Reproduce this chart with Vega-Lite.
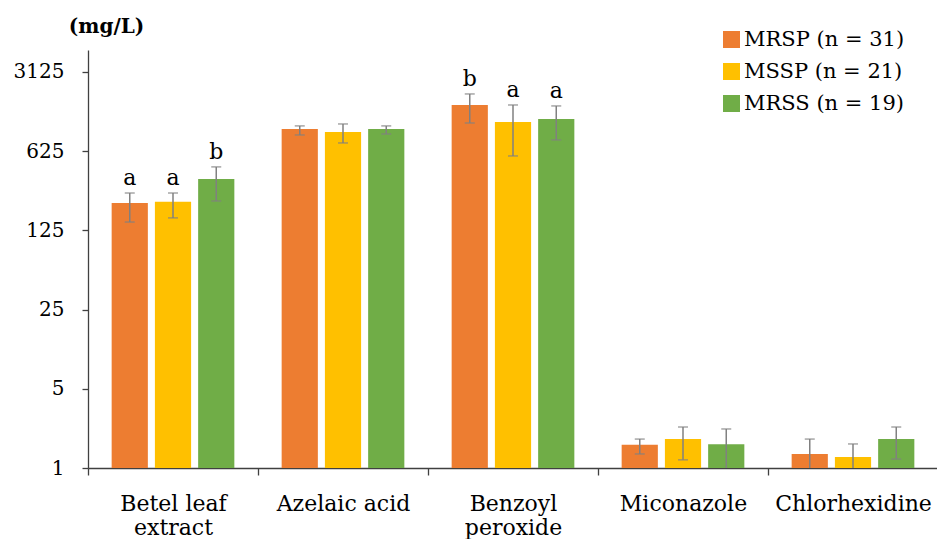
{
  "$schema": "https://vega.github.io/schema/vega-lite/v6.json",
  "autosize": "none",
  "width": 850,
  "height": 418,
  "padding": {"left": 88, "top": 50, "right": 0, "bottom": 71},
  "background": "white",
  "config": {
    "view": {"stroke": null},
    "font": "DejaVu Serif"
  },
  "data": {
    "values": [
      {"agent": "Betel leaf extract", "group": "MRSP", "value": 218, "lower": 148, "upper": 267, "letter": "a"},
      {"agent": "Betel leaf extract", "group": "MSSP", "value": 223, "lower": 161, "upper": 267, "letter": "a"},
      {"agent": "Betel leaf extract", "group": "MRSS", "value": 355, "lower": 227, "upper": 454, "letter": "b"},
      {"agent": "Azelaic acid", "group": "MRSP", "value": 982, "lower": 868, "upper": 1044, "letter": ""},
      {"agent": "Azelaic acid", "group": "MSSP", "value": 923, "lower": 738, "upper": 1086, "letter": ""},
      {"agent": "Azelaic acid", "group": "MRSS", "value": 982, "lower": 886, "upper": 1044, "letter": ""},
      {"agent": "Benzoyl peroxide", "group": "MRSP", "value": 1597, "lower": 1108, "upper": 1998, "letter": "b"},
      {"agent": "Benzoyl peroxide", "group": "MSSP", "value": 1131, "lower": 567, "upper": 1597, "letter": "a"},
      {"agent": "Benzoyl peroxide", "group": "MRSS", "value": 1202, "lower": 785, "upper": 1566, "letter": "a"},
      {"agent": "Miconazole", "group": "MRSP", "value": 1.6, "lower": 1.33, "upper": 1.8, "letter": ""},
      {"agent": "Miconazole", "group": "MSSP", "value": 1.8, "lower": 1.18, "upper": 2.3, "letter": ""},
      {"agent": "Miconazole", "group": "MRSS", "value": 1.62, "lower": 0.9, "upper": 2.21, "letter": ""},
      {"agent": "Chlorhexidine", "group": "MRSP", "value": 1.33, "lower": 0.9, "upper": 1.8, "letter": ""},
      {"agent": "Chlorhexidine", "group": "MSSP", "value": 1.25, "lower": 0.9, "upper": 1.63, "letter": ""},
      {"agent": "Chlorhexidine", "group": "MRSS", "value": 1.8, "lower": 1.2, "upper": 2.3, "letter": ""}
    ]
  },
  "encoding": {
    "x": {
      "field": "agent",
      "type": "nominal",
      "sort": ["Betel leaf extract", "Azelaic acid", "Benzoyl peroxide", "Miconazole", "Chlorhexidine"],
      "scale": {"paddingInner": 0, "paddingOuter": 0},
      "axis": {
        "title": null,
        "labelAngle": 0,
        "tickBand": "extent",
        "tickSize": 7,
        "tickColor": "#404040",
        "tickWidth": 1.3,
        "domainColor": "#404040",
        "domainWidth": 1.3,
        "labelFont": "DejaVu Serif",
        "labelFontSize": 22,
        "labelColor": "#000000",
        "labelPadding": 18,
        "labelLineHeight": 24,
        "labelExpr": "datum.value == 'Betel leaf extract' ? ['Betel leaf', 'extract'] : datum.value == 'Benzoyl peroxide' ? ['Benzoyl', 'peroxide'] : datum.value"
      }
    },
    "xOffset": {
      "field": "group",
      "type": "nominal",
      "sort": ["MRSP", "MSSP", "MRSS"],
      "scale": {"paddingInner": 0.163, "paddingOuter": 0.547}
    }
  },
  "layer": [
    {
      "mark": {"type": "bar"},
      "encoding": {
        "y": {
          "field": "value",
          "type": "quantitative",
          "scale": {"type": "log", "base": 5, "domain": [1, 4880], "nice": false},
          "axis": {
            "title": "(mg/L)",
            "titleAngle": 0,
            "titleFont": "DejaVu Serif",
            "titleFontSize": 20,
            "titleFontWeight": "bold",
            "titleColor": "#000000",
            "titleAlign": "center",
            "titleBaseline": "alphabetic",
            "titleX": 18,
            "titleY": -18,
            "values": [1, 5, 25, 125, 625, 3125],
            "format": "d",
            "grid": false,
            "tickSize": 6,
            "tickColor": "#404040",
            "tickWidth": 1.3,
            "domainColor": "#404040",
            "domainWidth": 1.3,
            "labelFont": "DejaVu Serif",
            "labelFontSize": 20,
            "labelColor": "#000000",
            "labelPadding": 18
          }
        },
        "y2": {"datum": 1},
        "color": {
          "field": "group",
          "type": "nominal",
          "sort": ["MRSP", "MSSP", "MRSS"],
          "scale": {"domain": ["MRSP", "MSSP", "MRSS"], "range": ["#ED7D31", "#FFC000", "#70AD47"]},
          "legend": {
            "title": null,
            "orient": "none",
            "legendX": 633,
            "legendY": -21,
            "symbolType": "square",
            "symbolSize": 289,
            "symbolStrokeWidth": 0,
            "labelFont": "DejaVu Serif",
            "labelFontSize": 21,
            "labelColor": "#000000",
            "labelOffset": 2,
            "labelLimit": 0,
            "rowPadding": 10,
            "padding": 0,
            "labelExpr": "datum.label == 'MRSP' ? 'MRSP (n = 31)' : datum.label == 'MSSP' ? 'MSSP (n = 21)' : 'MRSS (n = 19)'"
          }
        }
      }
    },
    {
      "mark": {"type": "rule", "color": "#808080", "strokeWidth": 1.5, "clip": true},
      "encoding": {
        "y": {"field": "lower", "type": "quantitative"},
        "y2": {"field": "upper"}
      }
    },
    {
      "mark": {"type": "tick", "color": "#808080", "thickness": 1.5, "size": 10, "orient": "horizontal", "clip": true},
      "encoding": {
        "y": {"field": "lower", "type": "quantitative"}
      }
    },
    {
      "mark": {"type": "tick", "color": "#808080", "thickness": 1.5, "size": 10, "orient": "horizontal", "clip": true},
      "encoding": {
        "y": {"field": "upper", "type": "quantitative"}
      }
    },
    {
      "transform": [{"filter": "datum.letter != ''"}],
      "mark": {"type": "text", "baseline": "alphabetic", "dy": -8, "fontSize": 22, "font": "DejaVu Serif", "color": "#000000"},
      "encoding": {
        "y": {"field": "upper", "type": "quantitative"},
        "text": {"field": "letter"}
      }
    }
  ]
}
